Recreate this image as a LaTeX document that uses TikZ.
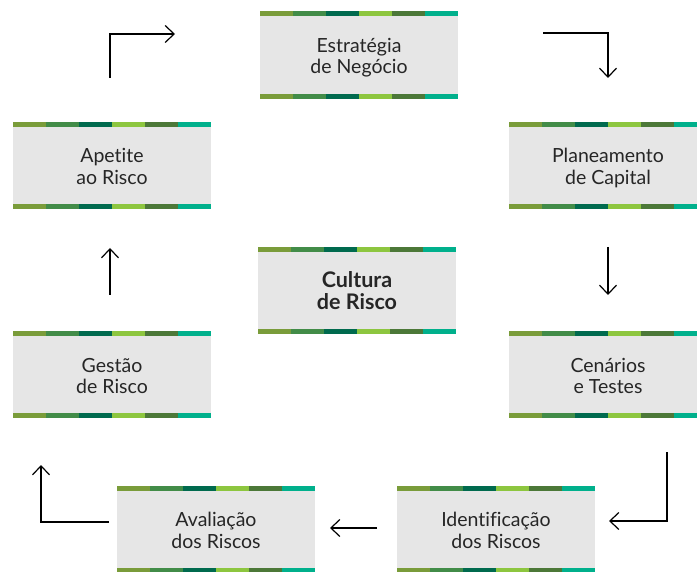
\documentclass[tikz,border=0pt]{standalone}
\usepackage{fontspec}
\setmainfont{Lato}[Ligatures={NoCommon}]
\newfontfamily\boldlato{Lato}[Ligatures={NoCommon}]
\usetikzlibrary{arrows.meta,calc}
\definecolor{boxgray}{HTML}{E6E6E6}
\definecolor{sA}{HTML}{7A9C3A}
\definecolor{sB}{HTML}{428C48}
\definecolor{sC}{HTML}{006A4E}
\definecolor{sD}{HTML}{8DC63F}
\definecolor{sE}{HTML}{4C7838}
\definecolor{sF}{HTML}{00B08C}
\definecolor{txt}{HTML}{262626}
\tikzset{
  riskbox/.style={minimum width=198pt, minimum height=87pt, fill=boxgray, inner sep=0pt,
    align=center, text=txt, font=\fontsize{19.5}{21.5}\selectfont,
    text height=40pt, text depth=2pt,
    path picture={
      \coordinate (nw) at (path picture bounding box.north west);
      \coordinate (sw) at (path picture bounding box.south west);
      \foreach \c [count=\i from 0] in {sA,sB,sC,sD,sE,sF}{
        \fill[\c] ([xshift=\i*33pt]nw) rectangle ([xshift=\i*33pt+33pt,yshift=-5pt]nw);
        \fill[\c] ([xshift=\i*33pt]sw) rectangle ([xshift=\i*33pt+33pt,yshift=5pt]sw);
      }
    }},
  flow/.style={line width=1.3pt, -{Straight Barb[length=9pt,width=17pt,line width=1.2pt]}}
}
\begin{document}
\begin{tikzpicture}[x=1pt,y=-1pt]
\useasboundingbox (0,0) rectangle (697,572);
\node[riskbox, minimum height=88pt] (estr) at (359,55) {Estratégia\\de Negócio};
\node[riskbox] (apet) at (112,165.5) {Apetite\\ao Risco};
\node[riskbox] (plan) at (608,165.5) {Planeamento\\de Capital};
\node[riskbox, font=\fontsize{21.5}{21.5}\boldlato\bfseries] (cult) at (357,290.5) {Cultura\\de Risco};
\node[riskbox] (gest) at (112,375) {Gestão\\de Risco};
\node[riskbox] (cena) at (608,375) {Cenários\\e Testes};
\node[riskbox] (aval) at (216,529) {Avaliação\\dos Riscos};
\node[riskbox] (iden) at (496,529) {Identificação\\dos Riscos};
% connector end points
\coordinate (p1s) at (110,78);  \coordinate (p1c) at (110,34);  \coordinate (p1e) at (175,34);
\coordinate (p2s) at (543,33);  \coordinate (p2c) at (608,33);  \coordinate (p2e) at (608,78);
\coordinate (p3s) at (608,247); \coordinate (p3e) at (608,295);
\coordinate (p4s) at (667,452); \coordinate (p4c) at (667,521); \coordinate (p4e) at (609,521);
\coordinate (p5s) at (377,528); \coordinate (p5e) at (330,528);
\coordinate (p6s) at (109,522); \coordinate (p6c) at (41,522);  \coordinate (p6e) at (41,465);
\coordinate (p7s) at (110,295); \coordinate (p7e) at (110,248);
\draw[flow] (p1s) -- (p1c) -- (p1e);
\draw[flow] (p2s) -- (p2c) -- (p2e);
\draw[flow] (p3s) -- (p3e);
\draw[flow] (p4s) -- (p4c) -- (p4e);
\draw[flow] (p5s) -- (p5e);
\draw[flow] (p6s) -- (p6c) -- (p6e);
\draw[flow] (p7s) -- (p7e);
\end{tikzpicture}
\end{document}
